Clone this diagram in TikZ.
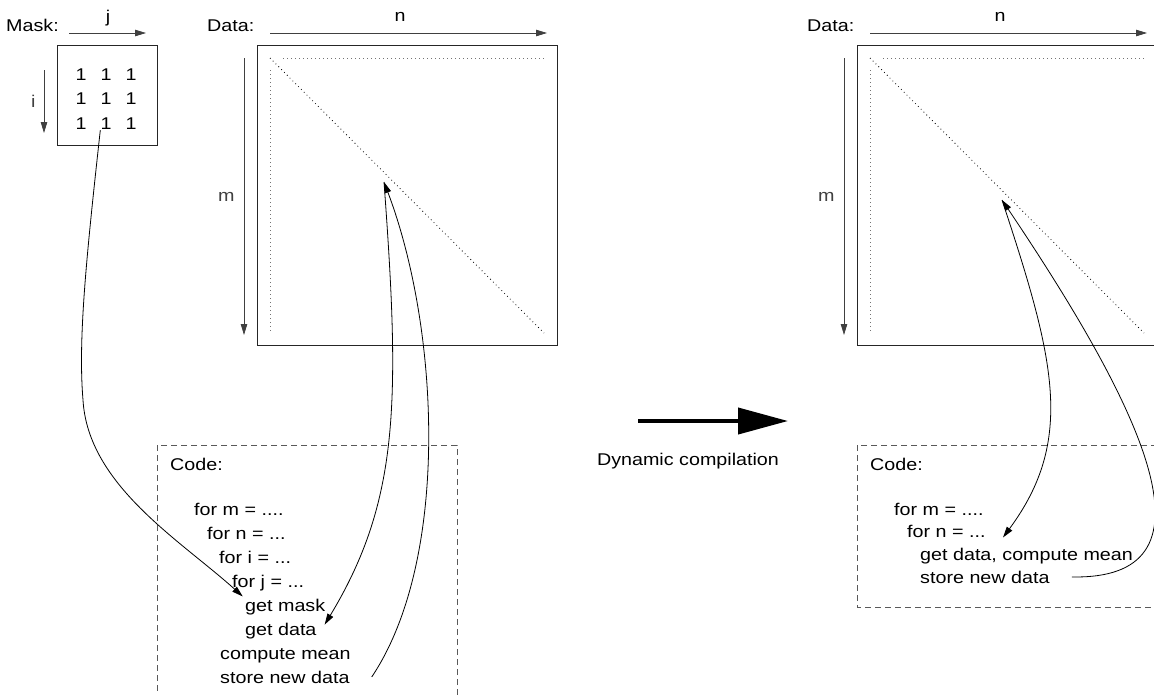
\documentclass[tikz,border=0pt]{standalone}
\usepackage{fontspec}
\setmainfont{Liberation Sans}[FakeStretch=1.16]
\usetikzlibrary{arrows.meta}

\begin{document}
\begin{tikzpicture}[x=1pt,y=-1pt,
    every node/.style={font=\fontsize{17}{20}\selectfont, inner sep=0pt},
    >={Triangle[length=11pt,width=6.5pt]},
    ax/.style={->, line width=0.8pt, black!75},
    matbox/.style={draw, line width=0.9pt, black!85},
    dots/.style={line width=0.8pt, dash pattern=on 0.8pt off 3.2pt, black!55},
    codebox/.style={draw, line width=0.8pt, dash pattern=on 6pt off 4pt, black!65},
    codeline/.style={anchor=base west},
    flow/.style={->, line width=0.8pt}]
    \clip (0,0) rectangle (1154,694);

    % mask
    \node[anchor=base west] (masklbl) at (6,31) {Mask:};
    \draw[ax] (69,33) -- (146,33);
    \node[anchor=base] (jlbl) at (108,22) {j};
    \draw[ax] (44,70) -- node[left=8pt] (ilbl) {i} (44,133);
    \draw[matbox] (57,45) rectangle (157,145);
    \foreach \r/\y in {1/75,2/99,3/124}
        \foreach \c/\x in {1/81,2/106,3/131}
            \node (one\r\c) at (\x,\y) {1};

    % data, before
    \node[anchor=base west] (datalbl) at (207,31) {Data:};
    \draw[ax] (270,33) -- (547,33);
    \node[anchor=base] (nlbl) at (400,21) {n};
    \draw[ax] (244,58) -- node[left=9pt] (mlbl) {m} (244,335);
    \draw[matbox] (257,45) rectangle (557,345);
    \draw[dots] (270,70) -- (270,333);
    \draw[dots] (283,58) -- (545,58);
    \draw[dots, black] (270,58) -- (544,333);
    \coordinate (cellL) at (384,182);

    % code, before
    \draw[codebox] (157,445) rectangle (457,720);
    \node[codeline] (codeL) at (170,470) {Code:};
    \node[codeline] (forM) at (194,515) {for m = ....};
    \node[codeline] (forN) at (207,539) {for n = ...};
    \node[codeline] (forI) at (219,563) {for i = ...};
    \node[codeline] (forJ) at (232,587) {for j = ...};
    \node[codeline] (getMask) at (245,611) {get mask};
    \node[codeline] (getData) at (245,635) {get data};
    \node[codeline] (compMean) at (220,659) {compute mean};
    \node[codeline] (storeL) at (220,683) {store new data};

    \draw[flow, shorten >=3pt] (one32.south west) .. controls (86,260) and (78,340) .. (83,400)
        .. controls (88,485) and (180,540) .. (getMask.north west);
    \draw[flow] (cellL) .. controls (400,400) and (400,500) .. ([shift={(8pt,6pt)}]getData.east);
    \draw[flow] ([xshift=22pt]storeL.east) .. controls (450,560) and (440,330) .. (cellL);

    % compilation step
    \coordinate (dynA) at (638,421);
    \coordinate (dynB) at (788,421);
    \draw[line width=4pt, -{Triangle[length=50pt,width=26pt]}] (dynA) -- (dynB);
    \node[anchor=base] (dynlbl) at (688,465) {Dynamic compilation};

    % data, after
    \node[anchor=base west] (dataR) at (807,31) {Data:};
    \draw[ax] (870,33) -- (1147,33);
    \node[anchor=base] (nR) at (1000,21) {n};
    \draw[ax] (844,58) -- node[left=9pt] (mR) {m} (844,335);
    \draw[matbox] (857,45) rectangle (1157,345);
    \draw[dots] (870,70) -- (870,333);
    \draw[dots] (883,58) -- (1145,58);
    \draw[dots, black] (870,58) -- (1144,333);
    \coordinate (cellR) at (1002,200);

    % code, after
    \draw[codebox] (857,445) rectangle (1200,607);
    \node[codeline] (codeR) at (870,470) {Code:};
    \node[codeline] (forMR) at (894,515) {for m = ....};
    \node[codeline] (forNR) at (907,537) {for n = ...};
    \node[codeline] (getR) at (920,560) {get data, compute mean};
    \node[codeline] (storeR) at (920,583) {store new data};

    \draw[flow] (cellR) .. controls (1055,360) and (1075,440) .. ([shift={(83pt,10pt)}]getR.north west);
    \draw[flow] ([xshift=22pt]storeR.east) .. controls (1222,580) and (1150,420) .. (cellR);
\end{tikzpicture}
\end{document}
